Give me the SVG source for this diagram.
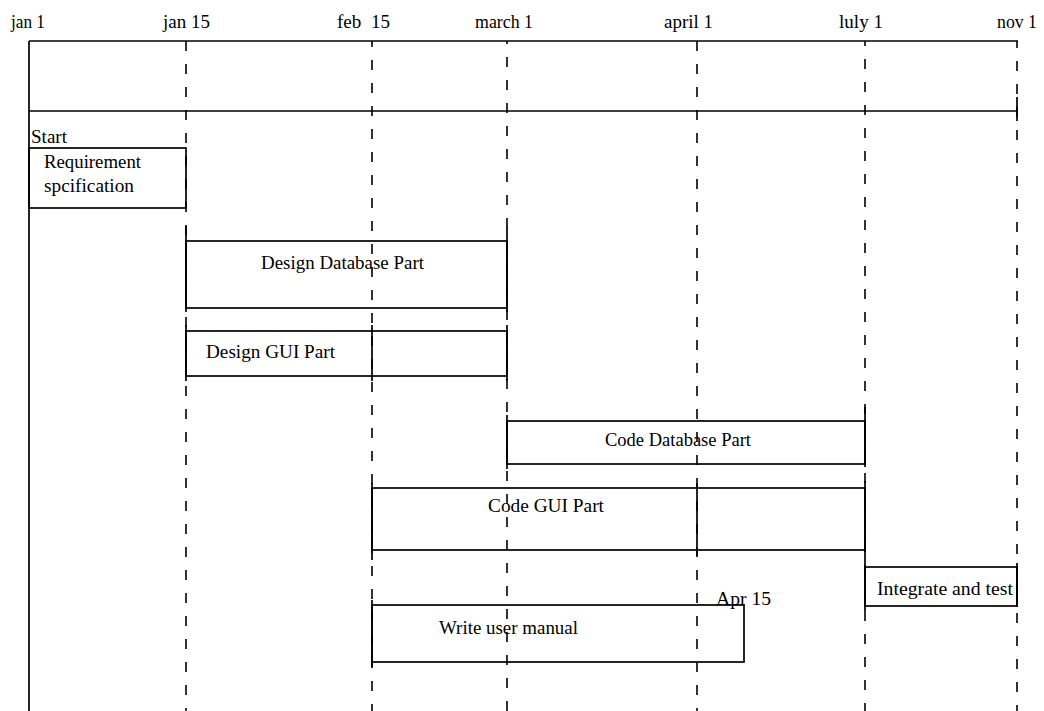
<svg xmlns="http://www.w3.org/2000/svg" width="1044" height="711" viewBox="0 0 1044 711">
<style>
.t{font-family:"Liberation Serif","Times New Roman",serif;font-size:19px;fill:#000}
.box{fill:none;stroke:#000;stroke-width:1.7}
.side{stroke:#000;stroke-width:1.7}
.grid{stroke:#000;stroke-width:1.6;stroke-dasharray:10 13}
.solid{stroke:#000;stroke-width:1.7}
</style>
<rect width="1044" height="711" fill="#fff"/>
<g id="connectors">
<line class="grid" x1="186" y1="41" x2="186" y2="711"/>
<line class="grid" x1="372" y1="41" x2="372" y2="711" stroke-dashoffset="4"/>
<line class="grid" x1="507" y1="41" x2="507" y2="711" stroke-dashoffset="7"/>
<line class="grid" x1="697" y1="41" x2="697" y2="711"/>
<line class="grid" x1="865" y1="41" x2="865" y2="711" stroke-dashoffset="5"/>
<line class="grid" x1="1017" y1="41" x2="1017" y2="711" stroke-dashoffset="3"/>
<line class="solid" x1="1017" y1="97" x2="1017" y2="121"/>
<line class="solid" x1="29" y1="41" x2="29" y2="711"/>
<line class="solid" x1="29" y1="41" x2="1018" y2="41"/>
<line class="solid" x1="29" y1="111" x2="1018" y2="111"/>
</g>
<g id="header">
<text class="t" x="11" y="28" textLength="34" lengthAdjust="spacingAndGlyphs">jan 1</text>
<text class="t" x="163" y="28" textLength="47" lengthAdjust="spacingAndGlyphs">jan 15</text>
<text class="t" x="337" y="28" textLength="53" lengthAdjust="spacingAndGlyphs" xml:space="preserve">feb  15</text>
<text class="t" x="475" y="28" textLength="58" lengthAdjust="spacingAndGlyphs">march 1</text>
<text class="t" x="664" y="28" textLength="49" lengthAdjust="spacingAndGlyphs">april 1</text>
<text class="t" x="839" y="28" textLength="44" lengthAdjust="spacingAndGlyphs">luly 1</text>
<text class="t" x="997" y="28" textLength="40" lengthAdjust="spacingAndGlyphs">nov 1</text>
</g>
<g id="requirement">
<text class="t" x="31" y="143" textLength="36" lengthAdjust="spacingAndGlyphs">Start</text>
<rect class="box" x="29" y="148" width="157" height="60"/>
<text class="t" x="44" y="168" textLength="97" lengthAdjust="spacingAndGlyphs">Requirement</text>
<text class="t" x="44" y="192" textLength="90" lengthAdjust="spacingAndGlyphs">spcification</text>
</g>
<g id="design-db">
<rect class="box" x="186" y="241" width="321" height="67"/>
<line class="side" x1="186" y1="226" x2="186" y2="312"/>
<line class="side" x1="507" y1="227" x2="507" y2="312"/>
<text class="t" x="261" y="269" textLength="163" lengthAdjust="spacingAndGlyphs">Design Database Part</text>
</g>
<g id="design-gui">
<rect class="box" x="186" y="331" width="321" height="45"/>
<line class="side" x1="186" y1="325" x2="186" y2="381"/>
<line class="side" x1="372" y1="325" x2="372" y2="381"/>
<line class="side" x1="507" y1="325" x2="507" y2="381"/>
<text class="t" x="206" y="358" textLength="129" lengthAdjust="spacingAndGlyphs">Design GUI Part</text>
</g>
<g id="code-db">
<rect class="box" x="507" y="421" width="358" height="43"/>
<line class="side" x1="507" y1="415" x2="507" y2="469"/>
<line class="side" x1="865" y1="407" x2="865" y2="467"/>
<text class="t" x="605" y="446" textLength="146" lengthAdjust="spacingAndGlyphs">Code Database Part</text>
</g>
<g id="code-gui">
<rect class="box" x="372" y="488" width="493" height="62"/>
<line class="side" x1="372" y1="483" x2="372" y2="560"/>
<line class="side" x1="697" y1="483" x2="697" y2="556"/>
<line class="side" x1="865" y1="481" x2="865" y2="552"/>
<text class="t" x="488" y="512" textLength="116" lengthAdjust="spacingAndGlyphs">Code GUI Part</text>
</g>
<g id="integrate">
<rect class="box" x="865" y="567" width="152" height="39"/>
<line class="side" x1="865" y1="550" x2="865" y2="611"/>
<line class="side" x1="1017" y1="563" x2="1017" y2="607"/>
<text class="t" x="877" y="595" textLength="136" lengthAdjust="spacingAndGlyphs">Integrate and test</text>
</g>
<g id="write-manual">
<rect class="box" x="372" y="605" width="372" height="57"/>
<line class="side" x1="372" y1="600" x2="372" y2="667"/>
<text class="t" x="439" y="634" textLength="139" lengthAdjust="spacingAndGlyphs">Write user manual</text>
<text class="t" x="716" y="605" textLength="55" lengthAdjust="spacingAndGlyphs">Apr 15</text>
</g>
</svg>
